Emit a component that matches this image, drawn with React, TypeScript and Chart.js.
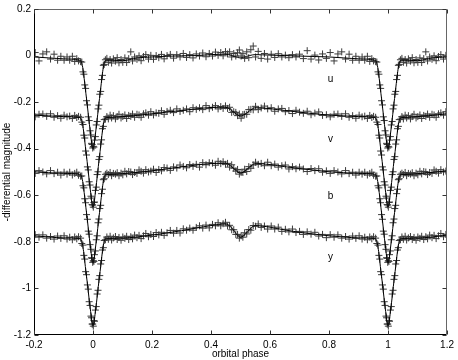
import React, { useEffect, useRef } from 'react';
import { Chart, registerables } from 'chart.js';

Chart.register(...registerables);

// Observed orbital phases (folded, 0..1)
const obsPhase = [
  0.001, 0.003, 0.005, 0.008, 0.011, 0.014, 0.017, 0.020, 0.023, 0.026, 0.029, 0.032, 0.035, 0.038, 0.042,
  0.047, 0.052, 0.058, 0.063, 0.069, 0.076, 0.082, 0.088, 0.095, 0.101,
  0.108, 0.114, 0.121, 0.128, 0.134, 0.141, 0.149, 0.156, 0.163, 0.171,
  0.179, 0.188, 0.196, 0.205, 0.214, 0.223, 0.232, 0.241, 0.251, 0.262,
  0.273, 0.284, 0.295, 0.306, 0.317, 0.328, 0.339, 0.350, 0.361, 0.372,
  0.383, 0.394, 0.405, 0.415, 0.424, 0.433, 0.441, 0.449, 0.456, 0.463,
  0.470, 0.477, 0.484, 0.490, 0.496, 0.502, 0.508, 0.514, 0.521, 0.528,
  0.535, 0.543, 0.551, 0.560, 0.570, 0.581, 0.592, 0.604, 0.616, 0.628,
  0.640, 0.652, 0.664, 0.676, 0.688, 0.700, 0.713, 0.726, 0.739, 0.752,
  0.765, 0.778, 0.791, 0.804, 0.817, 0.830, 0.843, 0.856, 0.868, 0.880,
  0.891, 0.902, 0.912, 0.921, 0.930, 0.938, 0.945, 0.951,
  0.958, 0.962, 0.966, 0.969, 0.972, 0.975, 0.978, 0.981, 0.984, 0.987, 0.990, 0.993, 0.995, 0.997, 0.999,
];

const obsU = [
  -0.390, -0.393, -0.363, -0.348, -0.298, -0.283, -0.229, -0.213, -0.166, -0.154, -0.103, -0.085, -0.042, -0.038, -0.018,
  -0.012, -0.029, -0.017, -0.032, -0.014, -0.024, -0.009, -0.031, -0.017, -0.029,
  -0.010, -0.030, -0.013, 0.016, -0.023, -0.006, -0.016, -0.001, -0.022, -0.004,
  0.004, -0.015, 0.001, -0.016, 0.000, -0.009, 0.005, -0.014, 0.000, 0.005,
  -0.011, 0.004, -0.006, 0.009, -0.008, 0.004, -0.010, 0.007, -0.002, 0.011,
  -0.005, 0.009, -0.002, 0.015, 0.001, 0.013, -0.001, 0.017, 0.007, 0.016,
  -0.006, 0.009, -0.002, 0.012, 0.024, -0.002, 0.008, -0.012, 0.016, -0.009,
  0.025, 0.041, -0.006, 0.018, -0.012, 0.009, -0.015, 0.006, -0.008, 0.008,
  -0.006, 0.002, -0.009, 0.004, -0.006, 0.006, -0.013, 0.021, -0.015, 0.002,
  -0.019, 0.007, -0.012, 0.013, -0.023, 0.007, 0.016, -0.015, 0.006, -0.020,
  -0.003, -0.020, -0.006, -0.020, -0.003, -0.025, -0.013, -0.023,
  -0.026, -0.028, -0.070, -0.080, -0.126, -0.141, -0.194, -0.212, -0.263, -0.279, -0.323, -0.341, -0.377, -0.382, -0.397,
];

const obsV = [
  -0.651, -0.631, -0.629, -0.579, -0.565, -0.511, -0.499, -0.446, -0.434, -0.380, -0.362, -0.314, -0.304, -0.275, -0.273,
  -0.262, -0.272, -0.256, -0.268, -0.258, -0.272, -0.262, -0.252, -0.268, -0.262,
  -0.255, -0.270, -0.257, -0.261, -0.251, -0.265, -0.252, -0.255, -0.265, -0.250,
  -0.246, -0.256, -0.241, -0.255, -0.246, -0.248, -0.237, -0.252, -0.240, -0.235,
  -0.245, -0.229, -0.240, -0.235, -0.229, -0.241, -0.224, -0.231, -0.224, -0.232,
  -0.215, -0.228, -0.222, -0.215, -0.229, -0.219, -0.227, -0.216, -0.227, -0.222,
  -0.244, -0.241, -0.244, -0.258, -0.251, -0.269, -0.253, -0.252, -0.252, -0.232,
  -0.231, -0.233, -0.218, -0.232, -0.225, -0.217, -0.229, -0.224, -0.239, -0.229,
  -0.227, -0.241, -0.236, -0.249, -0.235, -0.243, -0.248, -0.239, -0.254, -0.247,
  -0.242, -0.257, -0.254, -0.263, -0.252, -0.251, -0.261, -0.250, -0.265, -0.258,
  -0.269, -0.256, -0.263, -0.260, -0.270, -0.257, -0.266, -0.261,
  -0.265, -0.286, -0.296, -0.342, -0.354, -0.410, -0.427, -0.478, -0.491, -0.542, -0.556, -0.604, -0.612, -0.640, -0.642,
];

const obsB = [
  -0.881, -0.884, -0.855, -0.839, -0.791, -0.774, -0.718, -0.702, -0.657, -0.643, -0.593, -0.574, -0.533, -0.529, -0.510,
  -0.505, -0.511, -0.502, -0.516, -0.506, -0.509, -0.503, -0.516, -0.505, -0.512,
  -0.497, -0.508, -0.498, -0.500, -0.511, -0.502, -0.506, -0.491, -0.497, -0.505,
  -0.490, -0.500, -0.496, -0.488, -0.502, -0.489, -0.495, -0.481, -0.483, -0.493,
  -0.478, -0.483, -0.470, -0.476, -0.482, -0.468, -0.476, -0.467, -0.479, -0.460,
  -0.469, -0.460, -0.462, -0.471, -0.454, -0.464, -0.456, -0.467, -0.463, -0.479,
  -0.469, -0.484, -0.496, -0.489, -0.509, -0.502, -0.502, -0.488, -0.498, -0.477,
  -0.484, -0.470, -0.458, -0.467, -0.463, -0.473, -0.458, -0.473, -0.466, -0.479,
  -0.473, -0.470, -0.487, -0.477, -0.486, -0.479, -0.487, -0.498, -0.485, -0.494,
  -0.486, -0.501, -0.495, -0.506, -0.494, -0.500, -0.508, -0.494, -0.507, -0.501,
  -0.513, -0.501, -0.509, -0.501, -0.513, -0.506, -0.501, -0.514,
  -0.518, -0.517, -0.559, -0.568, -0.615, -0.632, -0.683, -0.703, -0.754, -0.767, -0.812, -0.832, -0.868, -0.871, -0.888,
];

const obsY = [
  -1.162, -1.138, -1.141, -1.093, -1.078, -1.024, -1.008, -0.961, -0.945, -0.895, -0.880, -0.835, -0.825, -0.794, -0.791,
  -0.779, -0.789, -0.776, -0.792, -0.783, -0.777, -0.790, -0.781, -0.793, -0.779,
  -0.785, -0.776, -0.790, -0.778, -0.787, -0.771, -0.782, -0.772, -0.786, -0.774,
  -0.764, -0.778, -0.768, -0.777, -0.760, -0.770, -0.759, -0.772, -0.761, -0.751,
  -0.763, -0.751, -0.762, -0.744, -0.750, -0.741, -0.750, -0.738, -0.731, -0.741,
  -0.728, -0.740, -0.725, -0.731, -0.718, -0.731, -0.722, -0.716, -0.732, -0.729,
  -0.748, -0.748, -0.768, -0.768, -0.784, -0.774, -0.780, -0.761, -0.766, -0.747,
  -0.750, -0.730, -0.733, -0.723, -0.738, -0.732, -0.745, -0.732, -0.745, -0.737,
  -0.755, -0.746, -0.757, -0.745, -0.760, -0.755, -0.768, -0.757, -0.767, -0.759,
  -0.775, -0.768, -0.782, -0.769, -0.780, -0.770, -0.784, -0.777, -0.788, -0.775,
  -0.785, -0.774, -0.788, -0.780, -0.791, -0.779, -0.787, -0.778,
  -0.784, -0.807, -0.814, -0.858, -0.874, -0.928, -0.941, -0.985, -1.003, -1.057, -1.073, -1.119, -1.126, -1.153, -1.153,
];

// Model light curves (folded, 0..1)
const modelPhase = [
  0, 0.004, 0.008, 0.012, 0.016, 0.02, 0.024, 0.028, 0.032, 0.036, 0.04, 0.045,
  0.07, 0.1, 0.15, 0.2, 0.25, 0.3, 0.35, 0.4, 0.45,
  0.47, 0.49, 0.5, 0.51, 0.53, 0.55,
  0.6, 0.65, 0.7, 0.75, 0.8, 0.85, 0.9,
  0.955,
  0.96, 0.964, 0.968, 0.972, 0.976, 0.98, 0.984, 0.988, 0.992, 0.996, 1.0,
];

const modelU = [
  -0.400, -0.381, -0.339, -0.297, -0.252, -0.206, -0.164, -0.119, -0.077, -0.043, -0.026, -0.020,
  -0.020, -0.022, -0.010, -0.006, -0.003, -0.001, 0.000, 0.004, 0.006,
  0.000, -0.008, -0.010, -0.008, 0.000, 0.004,
  0.002, 0.000, -0.002, -0.004, -0.006, -0.010, -0.014,
  -0.020,
  -0.026, -0.043, -0.077, -0.119, -0.164, -0.206, -0.252, -0.297, -0.339, -0.381, -0.400,
];

const modelV = [
  -0.650, -0.631, -0.589, -0.546, -0.500, -0.454, -0.412, -0.366, -0.324, -0.289, -0.272, -0.266,
  -0.265, -0.262, -0.257, -0.250, -0.243, -0.236, -0.229, -0.223, -0.222,
  -0.236, -0.255, -0.260, -0.256, -0.238, -0.224,
  -0.228, -0.236, -0.243, -0.250, -0.256, -0.259, -0.262,
  -0.266,
  -0.272, -0.289, -0.324, -0.366, -0.412, -0.454, -0.500, -0.546, -0.589, -0.631, -0.650,
];

const modelB = [
  -0.890, -0.871, -0.829, -0.787, -0.742, -0.696, -0.654, -0.609, -0.567, -0.533, -0.516, -0.510,
  -0.510, -0.507, -0.502, -0.495, -0.487, -0.478, -0.470, -0.464, -0.462,
  -0.477, -0.499, -0.505, -0.500, -0.480, -0.464,
  -0.468, -0.477, -0.485, -0.492, -0.499, -0.503, -0.506,
  -0.510,
  -0.516, -0.533, -0.567, -0.609, -0.654, -0.696, -0.742, -0.787, -0.829, -0.871, -0.890,
];

const modelY = [
  -1.160, -1.141, -1.100, -1.059, -1.014, -0.969, -0.928, -0.883, -0.841, -0.808, -0.791, -0.785,
  -0.785, -0.784, -0.779, -0.771, -0.762, -0.752, -0.741, -0.730, -0.723,
  -0.740, -0.772, -0.780, -0.774, -0.748, -0.730,
  -0.737, -0.749, -0.759, -0.767, -0.774, -0.779, -0.783,
  -0.785,
  -0.791, -0.808, -0.841, -0.883, -0.928, -0.969, -1.014, -1.059, -1.100, -1.141, -1.160,
];

const bandNames = ['u', 'v', 'b', 'y'];
const bandLabelPhase = [0.805, 0.805, 0.805, 0.805];
const bandLabelMag = [-0.103, -0.361, -0.605, -0.867];

const xTicks = [-0.2, 0, 0.2, 0.4, 0.6, 0.8, 1, 1.2];
const yTicks = [0.2, 0, -0.2, -0.4, -0.6, -0.8, -1, -1.2];

const fmt = (v: number) => String(Math.round(v * 10) / 10);

// Repeat the folded cycle so it covers phases -0.2 .. 1.2
function fold(phases: number[], mags: number[]) {
  const pts: { x: number; y: number }[] = [];
  phases.forEach((p, i) => { if (p >= 0.8) pts.push({ x: p - 1, y: mags[i] }); });
  phases.forEach((p, i) => pts.push({ x: p, y: mags[i] }));
  phases.forEach((p, i) => { if (p <= 0.2) pts.push({ x: p + 1, y: mags[i] }); });
  return pts.filter((pt, i) => i === 0 || Math.abs(pt.x - pts[i - 1].x) > 1e-9);
}

const FONT = '"Liberation Sans", Arial, Helvetica, sans-serif';

const framePlugin = {
  id: 'matlabFrame',
  afterDraw(chart: any) {
    const { ctx, chartArea: a, scales } = chart;
    const L = Math.round(a.left) + 0.5;
    const R = Math.round(a.right) - 0.5;
    const T = Math.round(a.top) + 0.5;
    const B = Math.round(a.bottom) - 0.5;
    ctx.save();
    ctx.lineWidth = 1;
    ctx.strokeStyle = '#000';
    ctx.beginPath();
    ctx.moveTo(L, T); ctx.lineTo(L, B); ctx.lineTo(R, B);
    ctx.stroke();
    ctx.strokeStyle = '#666';
    ctx.beginPath();
    ctx.moveTo(L, T); ctx.lineTo(R, T); ctx.lineTo(R, B);
    ctx.stroke();
    const tl = 4;
    ctx.strokeStyle = '#333';
    ctx.beginPath();
    xTicks.forEach((v) => {
      const x = Math.round(scales.x.getPixelForValue(v)) + 0.5;
      ctx.moveTo(x, B); ctx.lineTo(x, B - tl);
      ctx.moveTo(x, T); ctx.lineTo(x, T + tl);
    });
    yTicks.forEach((v) => {
      const y = Math.round(scales.y.getPixelForValue(v)) + 0.5;
      ctx.moveTo(L, y); ctx.lineTo(L + tl, y);
      ctx.moveTo(R, y); ctx.lineTo(R - tl, y);
    });
    ctx.stroke();
    ctx.fillStyle = '#000';
    ctx.font = '10px ' + FONT;
    ctx.textAlign = 'center';
    ctx.textBaseline = 'middle';
    bandNames.forEach((n, i) => {
      ctx.fillText(n, scales.x.getPixelForValue(bandLabelPhase[i]), scales.y.getPixelForValue(bandLabelMag[i]));
    });
    ctx.restore();
  },
};

export default function App() {
  const ref = useRef<HTMLCanvasElement>(null);
  useEffect(() => {
    const canvas = ref.current;
    if (!canvas) return;
    Chart.defaults.font.family = FONT;
    Chart.defaults.font.size = 10;
    Chart.defaults.color = '#000';

    const pointSets = [obsU, obsV, obsB, obsY].map((m) => ({
      type: 'scatter' as const,
      data: fold(obsPhase, m),
      showLine: false,
      pointStyle: 'cross',
      pointRadius: 3.5,
      pointBorderWidth: 1,
      borderColor: '#3a3a3a',
      backgroundColor: '#3a3a3a',
      order: 2,
    }));
    const lineSets = [modelU, modelV, modelB, modelY].map((m) => ({
      type: 'scatter' as const,
      data: fold(modelPhase, m),
      showLine: true,
      pointRadius: 0,
      borderColor: '#000',
      borderWidth: 1,
      cubicInterpolationMode: 'monotone',
      order: 1,
    }));

    const chart = new Chart(canvas, {
      type: 'scatter',
      data: { datasets: [...lineSets, ...pointSets] as any },
      options: {
        animation: false,
        responsive: false,
        devicePixelRatio: 1,
        events: [],
        layout: { padding: { top: 9, right: 10, left: 0, bottom: 0 } },
        plugins: { legend: { display: false }, tooltip: { enabled: false } },
        scales: {
          x: {
            type: 'linear',
            min: -0.2,
            max: 1.2,
            afterBuildTicks: (s: any) => { s.ticks = xTicks.map((v) => ({ value: v })); },
            afterFit: (s: any) => { s.height = 25; },
            grid: { display: false, drawTicks: false },
            border: { display: false },
            ticks: { padding: 4, maxRotation: 0, autoSkip: false, callback: (v: any) => fmt(Number(v)) },
            title: { display: true, text: 'orbital phase', padding: { top: 0, bottom: 0 } },
          },
          y: {
            type: 'linear',
            min: -1.2,
            max: 0.2,
            afterBuildTicks: (s: any) => { s.ticks = yTicks.map((v) => ({ value: v })); },
            afterFit: (s: any) => { s.width = 34; },
            grid: { display: false, drawTicks: false },
            border: { display: false },
            ticks: { padding: 3, autoSkip: false, callback: (v: any) => fmt(Number(v)) },
            title: { display: true, text: '-differential magnitude', padding: { top: 1, bottom: 0 } },
          },
        },
      } as any,
      plugins: [framePlugin],
    });
    return () => chart.destroy();
  }, []);

  return (
    <div style={{ position: 'absolute', left: 0, top: 0, width: 458, height: 360, background: '#fff' }}>
      <canvas ref={ref} width={458} height={360} />
    </div>
  );
}
